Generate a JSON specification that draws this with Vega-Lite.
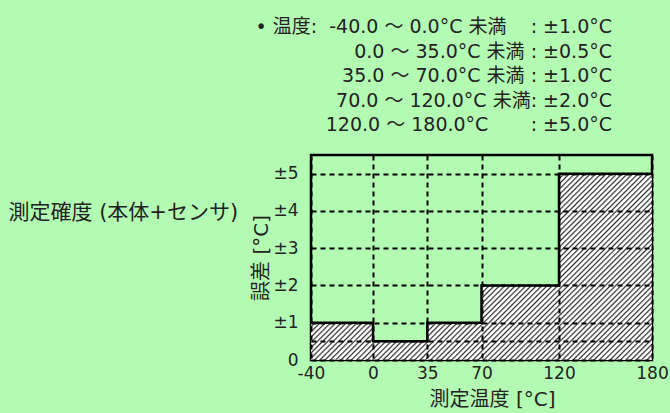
{
  "$schema": "https://vega.github.io/schema/vega-lite/v6.json",
  "width": 341,
  "height": 205,
  "autosize": {"type": "none"},
  "padding": {"left": 311, "top": 155, "right": 18, "bottom": 53},
  "background": "#b3fbb3",
  "config": {
    "view": {"stroke": "#000", "strokeWidth": 2.5},
    "font": "DejaVu Sans, Noto Sans CJK JP"
  },
  "title": {
    "text": [
      "•\u00a0温度:\u00a0\u00a0-40.0\u00a0〜\u00a00.0°C\u00a0未満\u00a0\u00a0\u00a0\u00a0:\u00a0±1.0°C",
      "0.0\u00a0〜\u00a035.0°C\u00a0未満\u00a0:\u00a0±0.5°C",
      "35.0\u00a0〜\u00a070.0°C\u00a0未満\u00a0:\u00a0±1.0°C",
      "70.0\u00a0〜\u00a0120.0°C\u00a0未満:\u00a0±2.0°C",
      "120.0\u00a0〜\u00a0180.0°C\u00a0\u00a0\u00a0\u00a0\u00a0\u00a0\u00a0:\u00a0±5.0°C"
    ],
    "anchor": "end",
    "align": "right",
    "frame": "group",
    "dx": -40,
    "offset": 20,
    "fontSize": 19,
    "fontWeight": "normal",
    "color": "#222",
    "lineHeight": 24.5,
    "font": "DejaVu Sans, Noto Sans CJK JP"
  },
  "data": {
    "values": [
      {"temp": -40, "err": 1},
      {"temp": 0, "err": 0.5},
      {"temp": 35, "err": 1},
      {"temp": 70, "err": 2},
      {"temp": 120, "err": 5},
      {"temp": 180, "err": 5}
    ]
  },
  "encoding": {
    "x": {
      "field": "temp",
      "type": "quantitative",
      "scale": {"domain": [-40, 180], "nice": false, "zero": false},
      "axis": {
        "title": "測定温度 [°C]",
        "values": [-40, 0, 35, 70, 120, 180],
        "labelExpr": "'' + datum.value",
        "grid": true,
        "gridDash": [5, 4],
        "gridColor": "#000",
        "gridWidth": 2,
        "gridOpacity": 1,
        "ticks": false,
        "domain": false,
        "labelPadding": 5,
        "labelFontSize": 17,
        "labelColor": "#222",
        "labelFlush": false,
        "labelOverlap": false,
        "titleFontSize": 20,
        "titleFontWeight": "normal",
        "titleColor": "#222",
        "titlePadding": 8,
        "titleX": 181,
        "zindex": 1
      }
    }
  },
  "layer": [
    {
      "mark": {
        "type": "area",
        "interpolate": "step-after",
        "opacity": 1,
        "fill": {
          "gradient": "linear",
          "x1": 0, "y1": 0, "x2": 1.1908, "y2": 0.6509,
          "stops": [
            {"offset":0,"color":"#333"},{"offset":0.0035,"color":"#fff"},{"offset":0.007,"color":"#fff"},
            {"offset":0.01,"color":"#333"},{"offset":0.0135,"color":"#fff"},{"offset":0.017,"color":"#fff"},
            {"offset":0.02,"color":"#333"},{"offset":0.0235,"color":"#fff"},{"offset":0.027,"color":"#fff"},
            {"offset":0.03,"color":"#333"},{"offset":0.0335,"color":"#fff"},{"offset":0.037,"color":"#fff"},
            {"offset":0.04,"color":"#333"},{"offset":0.0435,"color":"#fff"},{"offset":0.047,"color":"#fff"},
            {"offset":0.05,"color":"#333"},{"offset":0.0535,"color":"#fff"},{"offset":0.057,"color":"#fff"},
            {"offset":0.06,"color":"#333"},{"offset":0.0635,"color":"#fff"},{"offset":0.067,"color":"#fff"},
            {"offset":0.07,"color":"#333"},{"offset":0.0735,"color":"#fff"},{"offset":0.077,"color":"#fff"},
            {"offset":0.08,"color":"#333"},{"offset":0.0835,"color":"#fff"},{"offset":0.087,"color":"#fff"},
            {"offset":0.09,"color":"#333"},{"offset":0.0935,"color":"#fff"},{"offset":0.097,"color":"#fff"},
            {"offset":0.10,"color":"#333"},{"offset":0.1035,"color":"#fff"},{"offset":0.107,"color":"#fff"},
            {"offset":0.11,"color":"#333"},{"offset":0.1135,"color":"#fff"},{"offset":0.117,"color":"#fff"},
            {"offset":0.12,"color":"#333"},{"offset":0.1235,"color":"#fff"},{"offset":0.127,"color":"#fff"},
            {"offset":0.13,"color":"#333"},{"offset":0.1335,"color":"#fff"},{"offset":0.137,"color":"#fff"},
            {"offset":0.14,"color":"#333"},{"offset":0.1435,"color":"#fff"},{"offset":0.147,"color":"#fff"},
            {"offset":0.15,"color":"#333"},{"offset":0.1535,"color":"#fff"},{"offset":0.157,"color":"#fff"},
            {"offset":0.16,"color":"#333"},{"offset":0.1635,"color":"#fff"},{"offset":0.167,"color":"#fff"},
            {"offset":0.17,"color":"#333"},{"offset":0.1735,"color":"#fff"},{"offset":0.177,"color":"#fff"},
            {"offset":0.18,"color":"#333"},{"offset":0.1835,"color":"#fff"},{"offset":0.187,"color":"#fff"},
            {"offset":0.19,"color":"#333"},{"offset":0.1935,"color":"#fff"},{"offset":0.197,"color":"#fff"},
            {"offset":0.20,"color":"#333"},{"offset":0.2035,"color":"#fff"},{"offset":0.207,"color":"#fff"},
            {"offset":0.21,"color":"#333"},{"offset":0.2135,"color":"#fff"},{"offset":0.217,"color":"#fff"},
            {"offset":0.22,"color":"#333"},{"offset":0.2235,"color":"#fff"},{"offset":0.227,"color":"#fff"},
            {"offset":0.23,"color":"#333"},{"offset":0.2335,"color":"#fff"},{"offset":0.237,"color":"#fff"},
            {"offset":0.24,"color":"#333"},{"offset":0.2435,"color":"#fff"},{"offset":0.247,"color":"#fff"},
            {"offset":0.25,"color":"#333"},{"offset":0.2535,"color":"#fff"},{"offset":0.257,"color":"#fff"},
            {"offset":0.26,"color":"#333"},{"offset":0.2635,"color":"#fff"},{"offset":0.267,"color":"#fff"},
            {"offset":0.27,"color":"#333"},{"offset":0.2735,"color":"#fff"},{"offset":0.277,"color":"#fff"},
            {"offset":0.28,"color":"#333"},{"offset":0.2835,"color":"#fff"},{"offset":0.287,"color":"#fff"},
            {"offset":0.29,"color":"#333"},{"offset":0.2935,"color":"#fff"},{"offset":0.297,"color":"#fff"},
            {"offset":0.30,"color":"#333"},{"offset":0.3035,"color":"#fff"},{"offset":0.307,"color":"#fff"},
            {"offset":0.31,"color":"#333"},{"offset":0.3135,"color":"#fff"},{"offset":0.317,"color":"#fff"},
            {"offset":0.32,"color":"#333"},{"offset":0.3235,"color":"#fff"},{"offset":0.327,"color":"#fff"},
            {"offset":0.33,"color":"#333"},{"offset":0.3335,"color":"#fff"},{"offset":0.337,"color":"#fff"},
            {"offset":0.34,"color":"#333"},{"offset":0.3435,"color":"#fff"},{"offset":0.347,"color":"#fff"},
            {"offset":0.35,"color":"#333"},{"offset":0.3535,"color":"#fff"},{"offset":0.357,"color":"#fff"},
            {"offset":0.36,"color":"#333"},{"offset":0.3635,"color":"#fff"},{"offset":0.367,"color":"#fff"},
            {"offset":0.37,"color":"#333"},{"offset":0.3735,"color":"#fff"},{"offset":0.377,"color":"#fff"},
            {"offset":0.38,"color":"#333"},{"offset":0.3835,"color":"#fff"},{"offset":0.387,"color":"#fff"},
            {"offset":0.39,"color":"#333"},{"offset":0.3935,"color":"#fff"},{"offset":0.397,"color":"#fff"},
            {"offset":0.40,"color":"#333"},{"offset":0.4035,"color":"#fff"},{"offset":0.407,"color":"#fff"},
            {"offset":0.41,"color":"#333"},{"offset":0.4135,"color":"#fff"},{"offset":0.417,"color":"#fff"},
            {"offset":0.42,"color":"#333"},{"offset":0.4235,"color":"#fff"},{"offset":0.427,"color":"#fff"},
            {"offset":0.43,"color":"#333"},{"offset":0.4335,"color":"#fff"},{"offset":0.437,"color":"#fff"},
            {"offset":0.44,"color":"#333"},{"offset":0.4435,"color":"#fff"},{"offset":0.447,"color":"#fff"},
            {"offset":0.45,"color":"#333"},{"offset":0.4535,"color":"#fff"},{"offset":0.457,"color":"#fff"},
            {"offset":0.46,"color":"#333"},{"offset":0.4635,"color":"#fff"},{"offset":0.467,"color":"#fff"},
            {"offset":0.47,"color":"#333"},{"offset":0.4735,"color":"#fff"},{"offset":0.477,"color":"#fff"},
            {"offset":0.48,"color":"#333"},{"offset":0.4835,"color":"#fff"},{"offset":0.487,"color":"#fff"},
            {"offset":0.49,"color":"#333"},{"offset":0.4935,"color":"#fff"},{"offset":0.497,"color":"#fff"},
            {"offset":0.50,"color":"#333"},{"offset":0.5035,"color":"#fff"},{"offset":0.507,"color":"#fff"},
            {"offset":0.51,"color":"#333"},{"offset":0.5135,"color":"#fff"},{"offset":0.517,"color":"#fff"},
            {"offset":0.52,"color":"#333"},{"offset":0.5235,"color":"#fff"},{"offset":0.527,"color":"#fff"},
            {"offset":0.53,"color":"#333"},{"offset":0.5335,"color":"#fff"},{"offset":0.537,"color":"#fff"},
            {"offset":0.54,"color":"#333"},{"offset":0.5435,"color":"#fff"},{"offset":0.547,"color":"#fff"},
            {"offset":0.55,"color":"#333"},{"offset":0.5535,"color":"#fff"},{"offset":0.557,"color":"#fff"},
            {"offset":0.56,"color":"#333"},{"offset":0.5635,"color":"#fff"},{"offset":0.567,"color":"#fff"},
            {"offset":0.57,"color":"#333"},{"offset":0.5735,"color":"#fff"},{"offset":0.577,"color":"#fff"},
            {"offset":0.58,"color":"#333"},{"offset":0.5835,"color":"#fff"},{"offset":0.587,"color":"#fff"},
            {"offset":0.59,"color":"#333"},{"offset":0.5935,"color":"#fff"},{"offset":0.597,"color":"#fff"},
            {"offset":0.60,"color":"#333"},{"offset":0.6035,"color":"#fff"},{"offset":0.607,"color":"#fff"},
            {"offset":0.61,"color":"#333"},{"offset":0.6135,"color":"#fff"},{"offset":0.617,"color":"#fff"},
            {"offset":0.62,"color":"#333"},{"offset":0.6235,"color":"#fff"},{"offset":0.627,"color":"#fff"},
            {"offset":0.63,"color":"#333"},{"offset":0.6335,"color":"#fff"},{"offset":0.637,"color":"#fff"},
            {"offset":0.64,"color":"#333"},{"offset":0.6435,"color":"#fff"},{"offset":0.647,"color":"#fff"},
            {"offset":0.65,"color":"#333"},{"offset":0.6535,"color":"#fff"},{"offset":0.657,"color":"#fff"},
            {"offset":0.66,"color":"#333"},{"offset":0.6635,"color":"#fff"},{"offset":0.667,"color":"#fff"},
            {"offset":0.67,"color":"#333"},{"offset":0.6735,"color":"#fff"},{"offset":0.677,"color":"#fff"},
            {"offset":0.68,"color":"#333"},{"offset":0.6835,"color":"#fff"},{"offset":0.687,"color":"#fff"},
            {"offset":0.69,"color":"#333"},{"offset":0.6935,"color":"#fff"},{"offset":0.697,"color":"#fff"},
            {"offset":0.70,"color":"#333"},{"offset":0.7035,"color":"#fff"},{"offset":0.707,"color":"#fff"},
            {"offset":0.71,"color":"#333"},{"offset":0.7135,"color":"#fff"},{"offset":0.717,"color":"#fff"},
            {"offset":0.72,"color":"#333"},{"offset":0.7235,"color":"#fff"},{"offset":0.727,"color":"#fff"},
            {"offset":0.73,"color":"#333"},{"offset":0.7335,"color":"#fff"},{"offset":0.737,"color":"#fff"},
            {"offset":0.74,"color":"#333"},{"offset":0.7435,"color":"#fff"},{"offset":0.747,"color":"#fff"},
            {"offset":0.75,"color":"#333"},{"offset":0.7535,"color":"#fff"},{"offset":0.757,"color":"#fff"},
            {"offset":0.76,"color":"#333"},{"offset":0.7635,"color":"#fff"},{"offset":0.767,"color":"#fff"},
            {"offset":0.77,"color":"#333"},{"offset":0.7735,"color":"#fff"},{"offset":0.777,"color":"#fff"},
            {"offset":0.78,"color":"#333"},{"offset":0.7835,"color":"#fff"},{"offset":0.787,"color":"#fff"},
            {"offset":0.79,"color":"#333"},{"offset":0.7935,"color":"#fff"},{"offset":0.797,"color":"#fff"},
            {"offset":0.80,"color":"#333"},{"offset":0.8035,"color":"#fff"},{"offset":0.807,"color":"#fff"},
            {"offset":0.81,"color":"#333"},{"offset":0.8135,"color":"#fff"},{"offset":0.817,"color":"#fff"},
            {"offset":0.82,"color":"#333"},{"offset":0.8235,"color":"#fff"},{"offset":0.827,"color":"#fff"},
            {"offset":0.83,"color":"#333"},{"offset":0.8335,"color":"#fff"},{"offset":0.837,"color":"#fff"},
            {"offset":0.84,"color":"#333"},{"offset":0.8435,"color":"#fff"},{"offset":0.847,"color":"#fff"},
            {"offset":0.85,"color":"#333"},{"offset":0.8535,"color":"#fff"},{"offset":0.857,"color":"#fff"},
            {"offset":0.86,"color":"#333"},{"offset":0.8635,"color":"#fff"},{"offset":0.867,"color":"#fff"},
            {"offset":0.87,"color":"#333"},{"offset":0.8735,"color":"#fff"},{"offset":0.877,"color":"#fff"},
            {"offset":0.88,"color":"#333"},{"offset":0.8835,"color":"#fff"},{"offset":0.887,"color":"#fff"},
            {"offset":0.89,"color":"#333"},{"offset":0.8935,"color":"#fff"},{"offset":0.897,"color":"#fff"},
            {"offset":0.90,"color":"#333"},{"offset":0.9035,"color":"#fff"},{"offset":0.907,"color":"#fff"},
            {"offset":0.91,"color":"#333"},{"offset":0.9135,"color":"#fff"},{"offset":0.917,"color":"#fff"},
            {"offset":0.92,"color":"#333"},{"offset":0.9235,"color":"#fff"},{"offset":0.927,"color":"#fff"},
            {"offset":0.93,"color":"#333"},{"offset":0.9335,"color":"#fff"},{"offset":0.937,"color":"#fff"},
            {"offset":0.94,"color":"#333"},{"offset":0.9435,"color":"#fff"},{"offset":0.947,"color":"#fff"},
            {"offset":0.95,"color":"#333"},{"offset":0.9535,"color":"#fff"},{"offset":0.957,"color":"#fff"},
            {"offset":0.96,"color":"#333"},{"offset":0.9635,"color":"#fff"},{"offset":0.967,"color":"#fff"},
            {"offset":0.97,"color":"#333"},{"offset":0.9735,"color":"#fff"},{"offset":0.977,"color":"#fff"},
            {"offset":0.98,"color":"#333"},{"offset":0.9835,"color":"#fff"},{"offset":0.987,"color":"#fff"},
            {"offset":0.99,"color":"#333"},{"offset":0.9935,"color":"#fff"},{"offset":0.997,"color":"#fff"},
            {"offset":1,"color":"#333"}
          ]
        }
      },
      "encoding": {
        "y": {
          "field": "err",
          "type": "quantitative",
          "scale": {"domain": [0, 5.5], "nice": false},
          "axis": {
            "title": "誤差 [°C]",
            "values": [0, 0.5, 1, 2, 3, 4, 5],
            "labelExpr": "datum.value == 0.5 ? '' : (datum.value == 0 ? '0' : '±' + datum.value)",
            "grid": true,
            "gridDash": [5, 4],
            "gridColor": "#000",
            "gridWidth": 2,
            "gridOpacity": 1,
            "ticks": false,
            "domain": false,
            "labelPadding": 13,
            "labelFontSize": 17,
            "labelColor": "#222",
            "labelFlush": false,
            "labelOverlap": false,
            "titleFontSize": 20,
            "titleFontWeight": "normal",
            "titleColor": "#222",
            "titlePadding": 1,
            "zindex": 1
          }
        }
      }
    },
    {
      "mark": {"type": "line", "interpolate": "step-after", "stroke": "#000", "strokeWidth": 2.5},
      "encoding": {
        "y": {
          "field": "err",
          "type": "quantitative",
          "axis": {
            "orient": "left",
            "labels": false,
            "ticks": false,
            "domain": false,
            "grid": false,
            "title": "測定確度 (本体+センサ)",
            "titleAngle": 0,
            "titleAlign": "left",
            "titleBaseline": "middle",
            "titleX": -303,
            "titleY": 57,
            "titleFontSize": 21,
            "titleFontWeight": "normal",
            "titleColor": "#222"
          }
        }
      }
    }
  ],
  "resolve": {"axis": {"y": "independent"}}
}
